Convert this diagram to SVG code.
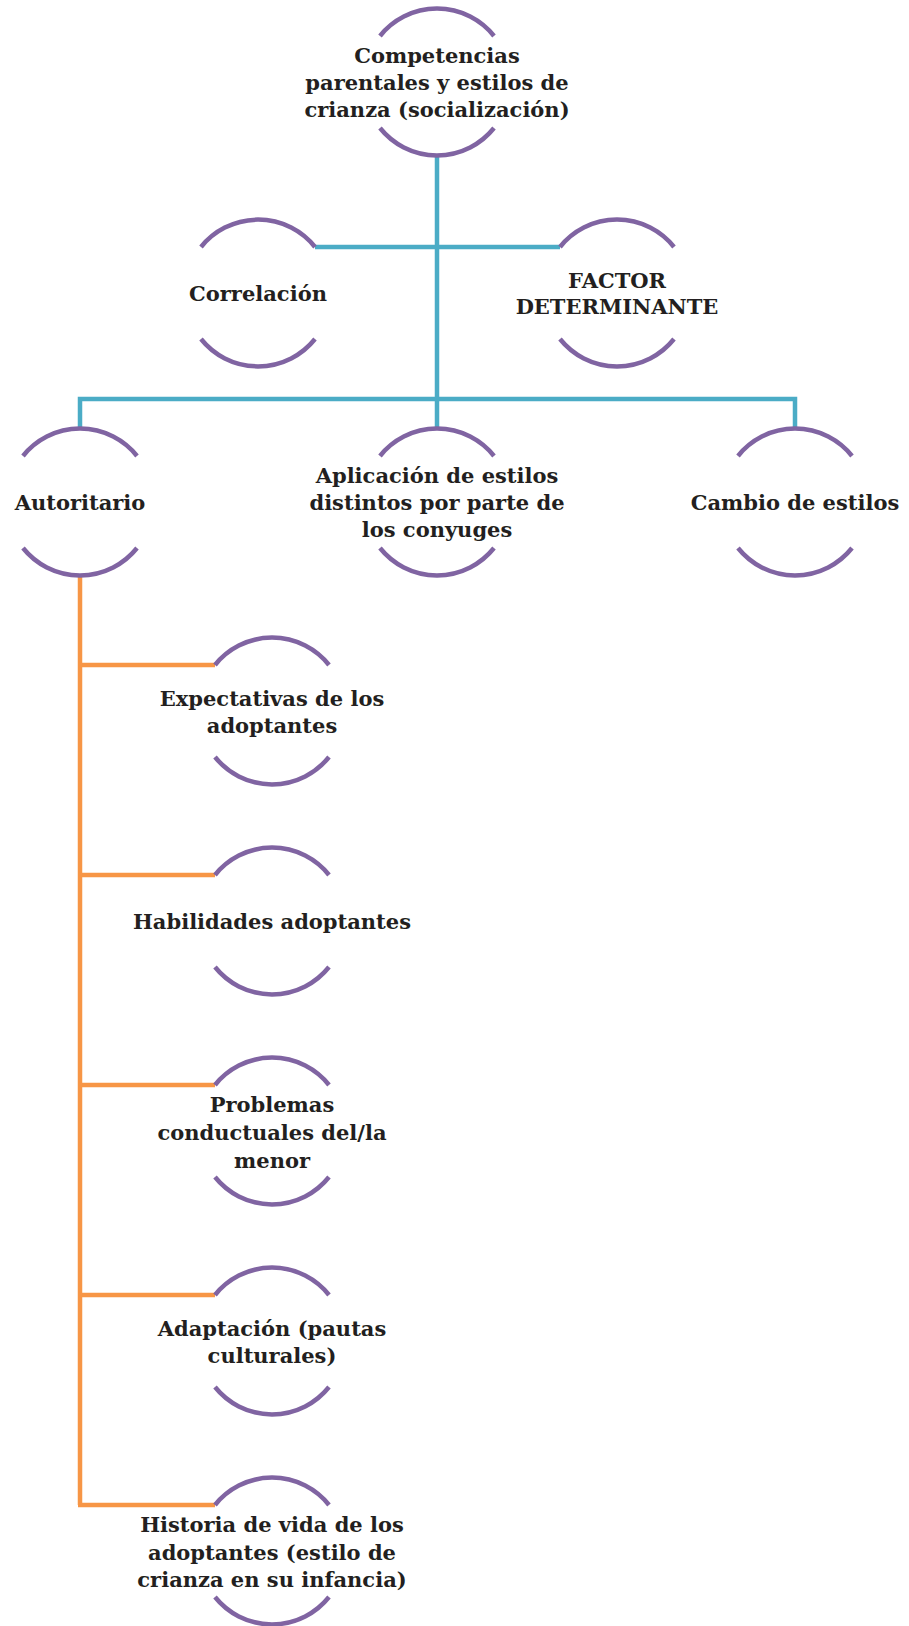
<svg xmlns="http://www.w3.org/2000/svg" xmlns:xlink="http://www.w3.org/1999/xlink" width="909" height="1626" viewBox="0 0 909 1626">
<style>
.arc{fill:none;stroke:#8064A2;stroke-width:4.5}
.t{font-family:"DejaVu Serif","Liberation Serif",serif;font-weight:bold;font-size:21px;fill:#231F20;text-anchor:middle}
.teal{fill:none;stroke:#4BACC6;stroke-width:4.5}
.orange{fill:none;stroke:#F79646;stroke-width:4.5}
</style>
<defs>
<g id="ring">
<path class="arc" d="M-57,-46 A73,73 0 0 1 57,-46"/>
<path class="arc" d="M-57,46 A73,73 0 0 0 57,46"/>
</g>
</defs>
<rect width="909" height="1626" fill="#fff"/>
<g id="connectors">
<path class="teal" d="M437,155 V429"/>
<path class="teal" d="M315,247 H560"/>
<path class="teal" d="M80,429 V399 H795 V429"/>
<path class="orange" d="M80,576 V1505"/>
<path class="orange" d="M78,665 H215"/>
<path class="orange" d="M78,875 H215"/>
<path class="orange" d="M78,1085 H215"/>
<path class="orange" d="M78,1295 H215"/>
<path class="orange" d="M78,1505 H215"/>
</g>
<g id="n-root" transform="translate(437,82)">
<use xlink:href="#ring"/>
<text class="t" y="-19">Competencias</text>
<text class="t" y="8">parentales y estilos de</text>
<text class="t" y="35">crianza (socialización)</text>
</g>
<g id="n-correlacion" transform="translate(258,293)">
<use xlink:href="#ring"/>
<text class="t" y="8">Correlación</text>
</g>
<g id="n-factor" transform="translate(617,293)">
<use xlink:href="#ring"/>
<text class="t" y="-5">FACTOR</text>
<text class="t" y="21">DETERMINANTE</text>
</g>
<g id="n-autoritario" transform="translate(80,502)">
<use xlink:href="#ring"/>
<text class="t" y="8">Autoritario</text>
</g>
<g id="n-aplicacion" transform="translate(437,502)">
<use xlink:href="#ring"/>
<text class="t" y="-19">Aplicación de estilos</text>
<text class="t" y="8">distintos por parte de</text>
<text class="t" y="35">los conyuges</text>
</g>
<g id="n-cambio" transform="translate(795,502)">
<use xlink:href="#ring"/>
<text class="t" y="8">Cambio de estilos</text>
</g>
<g id="n-expectativas" transform="translate(272,711)">
<use xlink:href="#ring"/>
<text class="t" y="-5">Expectativas de los</text>
<text class="t" y="22">adoptantes</text>
</g>
<g id="n-habilidades" transform="translate(272,921)">
<use xlink:href="#ring"/>
<text class="t" y="8">Habilidades adoptantes</text>
</g>
<g id="n-problemas" transform="translate(272,1131)">
<use xlink:href="#ring"/>
<text class="t" y="-19">Problemas</text>
<text class="t" y="9">conductuales del/la</text>
<text class="t" y="37">menor</text>
</g>
<g id="n-adaptacion" transform="translate(272,1341)">
<use xlink:href="#ring"/>
<text class="t" y="-5">Adaptación (pautas</text>
<text class="t" y="22">culturales)</text>
</g>
<g id="n-historia" transform="translate(272,1551)">
<use xlink:href="#ring"/>
<text class="t" y="-19">Historia de vida de los</text>
<text class="t" y="9">adoptantes (estilo de</text>
<text class="t" y="36">crianza en su infancia)</text>
</g>
</svg>
